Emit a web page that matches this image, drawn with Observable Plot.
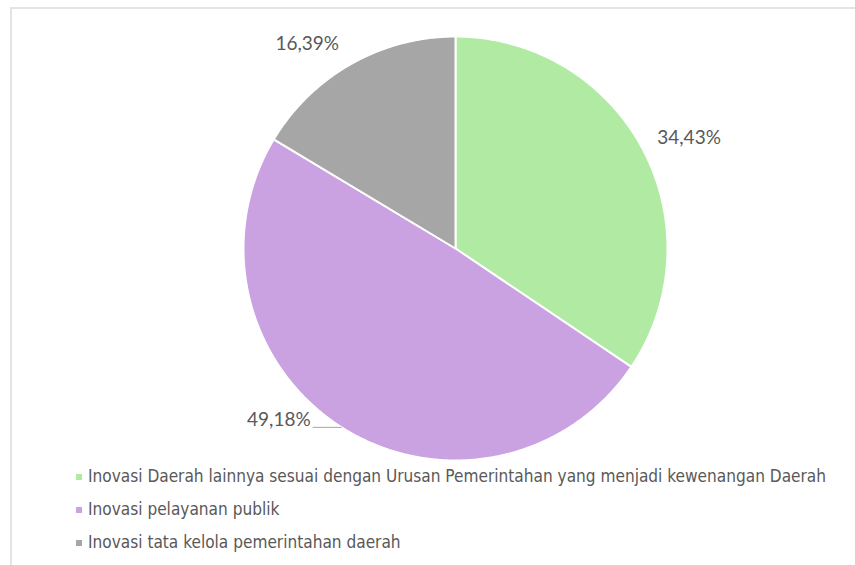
<!DOCTYPE html>
<html>
<head>
<meta charset="utf-8">
<script src="https://cdn.jsdelivr.net/npm/d3@7"></script>
<script src="https://cdn.jsdelivr.net/npm/@observablehq/plot@0.6"></script>
<style>
  html, body { margin: 0; padding: 0; background: #fff; }
  #wrap { position: relative; width: 855px; height: 565px; overflow: hidden; }
  #frame { position: absolute; left: 10px; top: 7px; width: 900px; height: 600px;
           border-left: 2px solid #e4e4e4; border-top: 2px solid #e4e4e4; }
  #chart { position: absolute; left: 0; top: 0; }
  #legend { position: absolute; left: 76px; top: 460px;
            font-family: "Liberation Sans Narrow", "DejaVu Sans Condensed", Lato, sans-serif;
            font-size: 17.1px; color: #595959; }
  .row { height: 33px; line-height: 33px; display: flex; align-items: center; white-space: nowrap; }
  .sw { width: 6px; height: 6px; margin-right: 6px; display: inline-block; }
</style>
</head>
<body>
<div id="wrap">
  <div id="frame"></div>
  <div id="chart"></div>
  <div id="legend"></div>
</div>
<script>
const categories = [
  "Inovasi Daerah lainnya sesuai dengan Urusan Pemerintahan yang menjadi kewenangan Daerah",
  "Inovasi pelayanan publik",
  "Inovasi tata kelola pemerintahan daerah"
];
const values = [34.43, 49.18, 16.39];
const labels = ["34,43%", "49,18%", "16,39%"];
const colors = ["#b1eaa2", "#caa2e1", "#a6a6a6"];

const table = categories.map((c, i) => ({category: c, value: values[i], label: labels[i]}));
const arcs = d3.pie().sort(null).value(d => d.value).startAngle(0).endAngle(2 * Math.PI)(table);

// slice outlines in unit-circle coordinates (y up)
const slicePts = [];
for (const a of arcs) {
  const c = a.data.category;
  slicePts.push({category: c, x: 0, y: 0});
  const n = Math.max(2, Math.ceil((a.endAngle - a.startAngle) / (Math.PI / 360)));
  for (let k = 0; k <= n; k++) {
    const t = a.startAngle + (a.endAngle - a.startAngle) * k / n;
    slicePts.push({category: c, x: Math.sin(t), y: Math.cos(t)});
  }
  slicePts.push({category: c, x: 0, y: 0});
}
const mids = arcs.map(a => {
  const m = (a.startAngle + a.endAngle) / 2;
  return {category: a.data.category, label: a.data.label, sx: Math.sin(m), sy: Math.cos(m)};
});
const green = mids.filter(d => d.category === categories[0]);
const purple = mids.filter(d => d.category === categories[1]);
const gray = mids.filter(d => d.category === categories[2]);
const R = 1.2;
const labelFont = {fontFamily: "Lato, 'Open Sans', sans-serif", fontSize: 19, fill: "#595959"};

const plot = Plot.plot({
  width: 855,
  height: 470,
  marginLeft: 243,
  marginRight: 188,
  marginTop: 36,
  marginBottom: 10,
  x: {domain: [-1, 1], axis: null},
  y: {domain: [-1, 1], axis: null},
  color: {domain: categories, range: colors},
  marks: [
    Plot.line(slicePts, {x: "x", y: "y", z: "category", fill: "category", stroke: "white", strokeWidth: 2, curve: "linear", strokeLinejoin: "round"}),
    Plot.text(green, {x: d => d.sx * R, y: d => d.sy * R, text: "label", dx: 9, dy: 9, ...labelFont}),
    Plot.text(gray, {x: d => d.sx * R, y: d => d.sy * R, text: "label", dx: -23, dy: 17, ...labelFont}),
    Plot.link(purple, {x1: "sx", y1: "sy", x2: d => d.sx - 0.137, y2: "sy", stroke: "#a6a6a6", strokeWidth: 1}),
    Plot.text(purple, {x: "sx", y: "sy", text: "label", textAnchor: "end", dx: -31, dy: -7, ...labelFont})
  ]
});
document.getElementById("chart").appendChild(plot);

const legend = document.getElementById("legend");
categories.forEach((c, i) => {
  const row = document.createElement("div");
  row.className = "row";
  const sw = document.createElement("span");
  sw.className = "sw";
  sw.style.background = colors[i];
  const tx = document.createElement("span");
  tx.textContent = c;
  row.appendChild(sw);
  row.appendChild(tx);
  legend.appendChild(row);
});
</script>
</body>
</html>
